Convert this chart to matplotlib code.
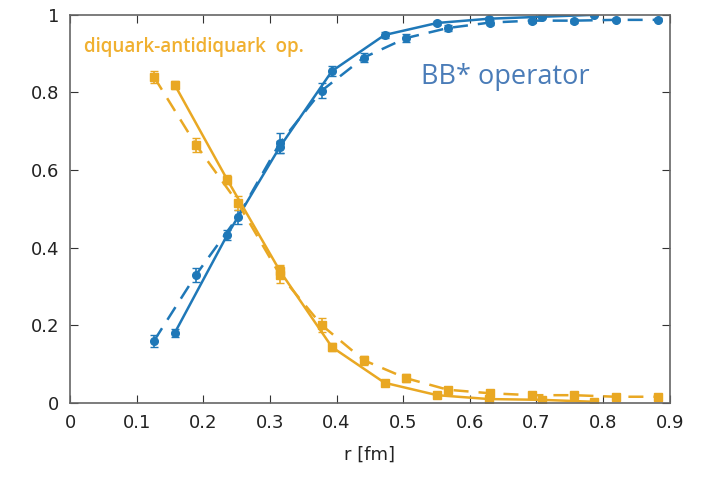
import numpy as np
import matplotlib
matplotlib.use('Agg')
import matplotlib.pyplot as plt

# two lattice spacings: solid (coarse) and dashed (fine)
r_solid = [0.157, 0.236, 0.315, 0.393, 0.472, 0.551, 0.629, 0.708, 0.787]
r_dashed = [0.126, 0.189, 0.252, 0.315, 0.378, 0.441, 0.504, 0.567,
            0.630, 0.693, 0.756, 0.819, 0.882]

bb_solid = [0.18, 0.433, 0.66, 0.855, 0.948, 0.979, 0.99, 0.995, 1.0]
bb_solid_err = [0.01, 0.012, 0.015, 0.012, 0.008, 0.006, 0.005, 0.004, 0.004]
bb_dashed = [0.16, 0.33, 0.48, 0.67, 0.805, 0.89, 0.94, 0.966,
             0.98, 0.985, 0.985, 0.987, 0.987]
bb_dashed_err = [0.015, 0.018, 0.018, 0.025, 0.02, 0.012, 0.01, 0.008,
                 0.006, 0.005, 0.005, 0.004, 0.004]

dq_solid = [0.82, 0.575, 0.34, 0.144, 0.052, 0.02, 0.01, 0.008, 0.003]
dq_solid_err = [0.01, 0.012, 0.015, 0.01, 0.008, 0.006, 0.005, 0.004, 0.004]
dq_dashed = [0.84, 0.665, 0.515, 0.33, 0.20, 0.11, 0.064, 0.034,
             0.025, 0.02, 0.02, 0.016, 0.016]
dq_dashed_err = [0.015, 0.018, 0.018, 0.022, 0.018, 0.012, 0.01, 0.008,
                 0.006, 0.005, 0.005, 0.004, 0.004]

blue = '#1f78b8'
orange = '#e9a823'

fig = plt.figure(figsize=(7.11, 4.78), dpi=100)
ax = fig.add_axes([0.0985, 0.157, 0.8435, 0.812])

style = dict(lw=1.8, ms=5.5, capsize=3, elinewidth=1.2)
ax.errorbar(r_solid, bb_solid, yerr=bb_solid_err, color=blue,
            marker='o', **style)
ax.errorbar(r_dashed, bb_dashed, yerr=bb_dashed_err, color=blue,
            ls=(0, (6, 4)), marker='o', **style)
ax.errorbar(r_solid, dq_solid, yerr=dq_solid_err, color=orange,
            marker='s', **style)
ax.errorbar(r_dashed, dq_dashed, yerr=dq_dashed_err, color=orange,
            ls=(0, (6, 4)), marker='s', **style)

ax.text(0.021, 0.918, 'diquark-antidiquark  op.', color='#f0b030',
        fontsize=13.5, family='Open Sans', weight='semibold',
        va='center', ha='left')
ax.text(0.526, 0.84, 'BB* operator', color='#4a7cb8',
        fontsize=19.5, family='Open Sans', va='center', ha='left')

ax.set_xlim(0, 0.9)
ax.set_ylim(0, 1)
ax.set_xticks(np.arange(0, 0.91, 0.1))
ax.set_xticklabels(['0', '0.1', '0.2', '0.3', '0.4', '0.5', '0.6', '0.7', '0.8', '0.9'])
ax.set_yticks([0, 0.2, 0.4, 0.6, 0.8, 1.0])
ax.set_yticklabels(['0', '0.2', '0.4', '0.6', '0.8', '1'])
ax.tick_params(direction='in', top=True, right=True, length=6,
               labelsize=13, color='#333333', labelcolor='#222222', pad=8)
for s in ax.spines.values():
    s.set_color('#666666')
    s.set_linewidth(1.2)
ax.set_xlabel('r [fm]', fontsize=13, color='#222222', labelpad=10)

fig.savefig('out.png', dpi=100)
